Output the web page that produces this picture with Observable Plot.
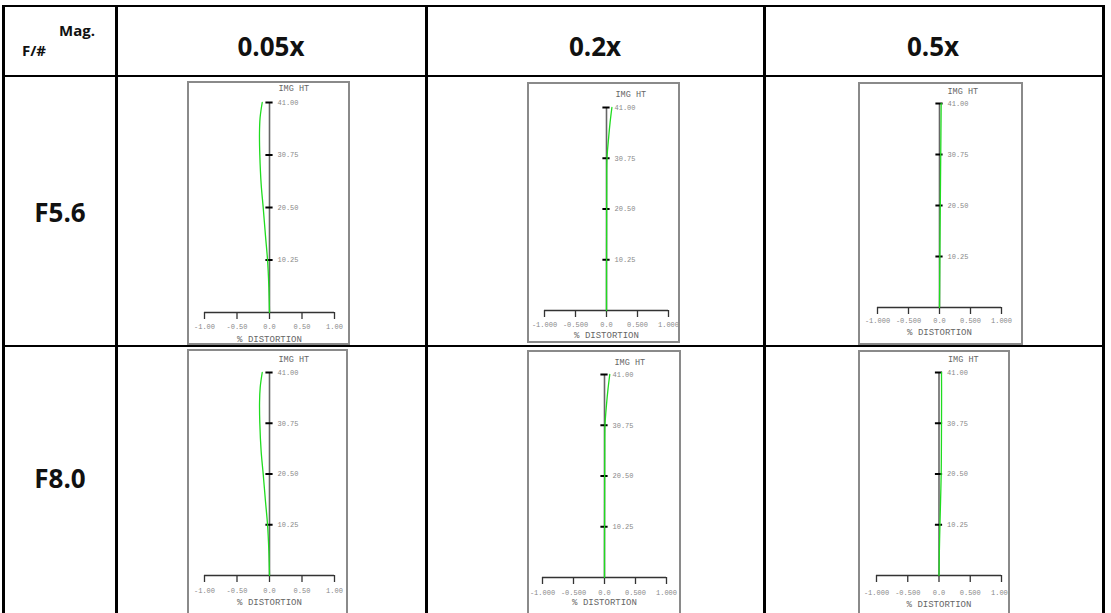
<!DOCTYPE html>
<html><head><meta charset="utf-8">
<script src="https://cdn.jsdelivr.net/npm/d3@7"></script>
<script src="https://cdn.jsdelivr.net/npm/@observablehq/plot@0.6"></script>
<style>
html,body{margin:0;padding:0;background:#fff;}
body{width:1111px;height:613px;overflow:hidden;position:relative;font-family:"Open Sans",sans-serif;}
.ln{position:absolute;background:#000;}
.txt{position:absolute;font-weight:bold;color:#111;white-space:nowrap;transform:translate(-50%,-50%);}
.box{position:absolute;border:2px solid #8a8a8a;box-sizing:border-box;pointer-events:none;}
.plot{position:absolute;}
.plot svg{display:block;overflow:hidden;}
</style></head>
<body>
<script>
// ---- data ----
const magnifications = ["0.05x", "0.2x", "0.5x"];
const fNumbers = ["F5.6", "F8.0"];
const headerCorner = ["Mag.", "F/#"];
const imgHtTicks = [10.25, 20.5, 30.75, 41.0];
const imgHtLabels = ["10.25", "20.50", "30.75", "41.00"];
const distTicks = [-1, -0.5, 0, 0.5, 1];
const distLabels2 = ["-1.00", "-0.50", "0.0", "0.50", "1.00"];
const distLabels3 = ["-1.000", "-0.500", "0.0", "0.500", "1.000"];
const imgHt = [0, 5, 10.25, 15, 20.5, 25, 30.75, 35, 38, 41];
const dist_F56_005 = [0, -0.01, -0.03, -0.062, -0.097, -0.128, -0.149, -0.154, -0.145, -0.112];
const dist_F56_02  = [0, 0, 0.001, 0.002, 0.003, 0.004, 0.008, 0.035, 0.058, 0.087];
const dist_F56_05  = [0, 0.003, 0.006, 0.009, 0.013, 0.016, 0.02, 0.023, 0.025, 0.027];
const dist_F80_005 = [0, -0.01, -0.03, -0.062, -0.097, -0.128, -0.149, -0.153, -0.143, -0.112];
const dist_F80_02  = [0, 0, 0.001, 0.002, 0.003, 0.004, 0.008, 0.033, 0.056, 0.085];
const dist_F80_05  = [0, 0.006, 0.015, 0.025, 0.035, 0.038, 0.04, 0.041, 0.041, 0.04];

const series = [
  [dist_F56_005, dist_F56_02, dist_F56_05],
  [dist_F80_005, dist_F80_02, dist_F80_05]
];

// ---- layout (positions only) ----
const lines = [
  {l:2, t:5, w:1103, h:2}, {l:2, t:75, w:1103, h:2}, {l:2, t:345, w:1103, h:2},
  {l:2, t:5, w:2.5, h:620}, {l:115, t:5, w:2.5, h:620}, {l:425, t:5, w:2.5, h:620},
  {l:763, t:5, w:2.5, h:620}, {l:1102, t:5, w:2.5, h:620}
];
const colCenters = [60, 271, 595, 933];
const rowCenters = [41, 212, 478];

const plotLayout = [
  [
    {L:187, T:81, W:163, H:264, ml:17, mr:16, mt:21, mb:33, lab:15, ttl:29, img:-14, imgDx:9, fmt:2},
    {L:527, T:82, W:153, H:261, ml:17, mr:12, mt:25, mb:33, lab:15, ttl:27, img:-13, imgDx:9, fmt:3},
    {L:858, T:82, W:165, H:263, ml:19, mr:22, mt:21, mb:38, lab:14, ttl:27, img:-12, imgDx:8, fmt:3}
  ],
  [
    {L:187, T:349, W:161, H:267, ml:17, mr:14, mt:23, mb:41, lab:16, ttl:29, img:-13, imgDx:9, fmt:2},
    {L:527, T:350, W:154, H:266, ml:15, mr:15, mt:24, mb:39, lab:16, ttl:27, img:-12, imgDx:10, fmt:3},
    {L:858, T:350, W:152, H:266, ml:18, mr:9, mt:22, mb:41, lab:18, ttl:31, img:-13, imgDx:9, fmt:3}
  ]
];

function addDiv(cls, style, text) {
  const d = document.createElement("div");
  d.className = cls;
  Object.assign(d.style, style);
  if (text != null) d.textContent = text;
  document.body.appendChild(d);
  return d;
}

// table lines
for (const ln of lines) addDiv("ln", {left: ln.l + "px", top: ln.t + "px", width: ln.w + "px", height: ln.h + "px"});

// header texts
addDiv("txt", {left: "77px", top: "30px", fontSize: "15px"}, headerCorner[0]);
addDiv("txt", {left: "34px", top: "50px", fontSize: "15px"}, headerCorner[1]);
magnifications.forEach((m, i) => addDiv("txt", {left: colCenters[i + 1] + "px", top: (rowCenters[0] + 5) + "px", fontSize: "26px"}, m));
fNumbers.forEach((f, i) => addDiv("txt", {left: colCenters[0] + "px", top: rowCenters[i + 1] + "px", fontSize: "26px"}, f));

// plots
fNumbers.forEach((f, r) => {
  magnifications.forEach((m, c) => {
    const p = plotLayout[r][c];
    const vals = series[r][c];
    const curve = imgHt.map((h, i) => ({h, d: vals[i]}));
    const labels = p.fmt === 2 ? distLabels2 : distLabels3;
    const pxPerUnit = (p.W - p.ml - p.mr) / 2;
    const tw = 3.6 / pxPerUnit;
    const chart = Plot.plot({
      width: p.W, height: p.H,
      marginLeft: p.ml, marginRight: p.mr, marginTop: p.mt, marginBottom: p.mb,
      x: {domain: [-1, 1], axis: null},
      y: {domain: [0, 41], axis: null},
      style: {fontFamily: "'Liberation Mono', monospace", fontSize: "7px", background: "transparent", color: "#888"},
      marks: [
        Plot.ruleY([0], {stroke: "#333", strokeWidth: 1.3}),
        Plot.axisX(distTicks, {
          anchor: "bottom", tickSize: 7, tickPadding: p.lab - 10, label: null,
          tickFormat: (d) => labels[distTicks.indexOf(d)],
          stroke: "#333", strokeWidth: 1.3, fill: "#888", fontSize: 7, strokeOpacity: 1
        }),
        Plot.ruleX([0], {y1: 0, y2: 41, stroke: "#666", strokeWidth: 1.6}),
        Plot.ruleY(imgHtTicks, {x1: -tw, x2: tw, stroke: "#000", strokeWidth: 2}),
        Plot.text(imgHtTicks, {x: () => 0, y: (d) => d, text: (d, i) => imgHtLabels[i], dx: 8, textAnchor: "start", fill: "#888", fontSize: 7}),
        Plot.text(["IMG HT"], {x: () => 0, y: () => 41, dx: p.imgDx, dy: p.img, textAnchor: "start", fill: "#666", fontSize: 8.5}),
        Plot.text(["% DISTORTION"], {frameAnchor: "bottom", dy: p.ttl, fill: "#666", fontSize: 9}),
        Plot.line(curve, {x: "d", y: "h", stroke: "#1fdc1f", strokeWidth: 1.3, curve: "catmull-rom"})
      ]
    });
    const wrap = addDiv("plot", {left: p.L + "px", top: p.T + "px", width: p.W + "px", height: p.H + "px"});
    wrap.appendChild(chart);
    addDiv("box", {left: p.L + "px", top: p.T + "px", width: p.W + "px", height: p.H + "px"});
  });
});
</script>
</body></html>
